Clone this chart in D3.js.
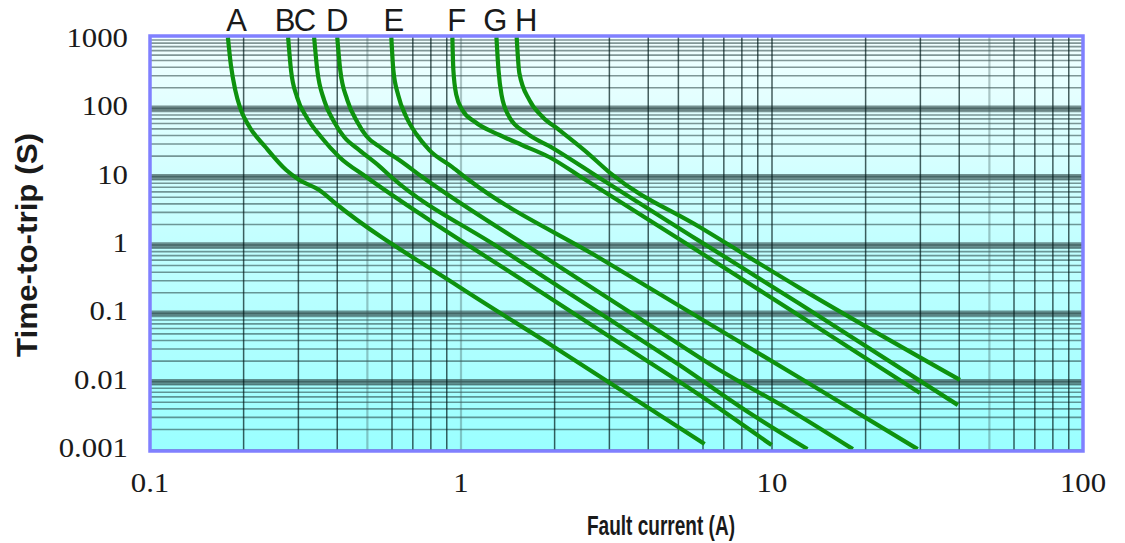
<!DOCTYPE html>
<html>
<head>
<meta charset="utf-8">
<script src="https://cdn.jsdelivr.net/npm/d3@7"></script>
<style>
body { margin: 0; background: #fff; }
</style>
</head>
<body>
<svg width="1125" height="543"></svg>
<script>
// curve names and where their letters sit (fault current, A)
var names = ['A', 'B', 'C', 'D', 'E', 'F', 'G', 'H'];
var labelAt = [0.190, 0.272, 0.315, 0.400, 0.608, 0.969, 1.29, 1.62];

// [fault current (A), time-to-trip (s)]
var curveA = [[0.178,1100],[0.182,431],[0.188,185],[0.195,101],[0.208,55.1],[0.235,27.2],[0.274,12.5],[0.302,8.94],[0.350,6.38],[0.397,3.98],[0.988,0.243],[1.97,0.0333],[6.07,0.00122]];
var curveB = [[0.278,1100],[0.284,364],[0.297,146],[0.320,72.2],[0.355,38.0],[0.406,19.4],[0.496,9.89],[0.791,2.32],[1.54,0.329],[3.23,0.0368],[5.85,0.00638],[9.97,0.00118]];
var curveC = [[0.337,1100],[0.345,364],[0.363,132],[0.391,63.1],[0.421,38.0],[0.471,24.5],[0.546,14.3],[0.597,9.89],[1.33,0.904],[2.79,0.101],[5.04,0.0175],[8.47,0.00348],[13.0,0.00103]];
var curveD = [[0.400,1100],[0.409,364],[0.431,132],[0.464,63.1],[0.496,39.4],[0.554,26.3],[0.633,17.5],[0.751,9.89],[1.92,0.603],[4.04,0.0675],[6.78,0.0148],[11.4,0.00385],[18.2,0.00103]];
var curveE = [[0.597,1100],[0.606,364],[0.628,157],[0.667,74.7],[0.718,42.1],[0.791,24.5],[0.938,13.8],[1.06,8.94],[2.79,0.645],[5.85,0.0855],[12.3,0.0113],[29.4,0.00103]];
var curveF = [[0.938,1100],[0.945,364],[0.966,157],[1.01,94.5],[1.11,63.1],[1.33,40.7],[1.57,29.1],[1.92,19.4],[2.46,9.56],[5.85,0.789],[12.3,0.0914],[29.9,0.00682]];
var curveG = [[1.30,1100],[1.32,364],[1.35,157],[1.43,74.7],[1.62,43.6],[1.97,26.3],[2.79,9.56],[5.85,1.14],[12.3,0.137],[39.6,0.00455]];
var curveH = [[1.51,1100],[1.54,329],[1.66,132],[1.83,74.7],[2.07,48.2],[2.49,24.5],[3.07,10.6],[5.85,1.83],[12.3,0.234],[40.2,0.0106]];
var curves = [curveA, curveB, curveC, curveD, curveE, curveF, curveG, curveH];

var xTicks = [0.1, 1, 10, 100];
var xTickLabels = ['0.1', '1', '10', '100'];
var yTicks = [1000, 100, 10, 1, 0.1, 0.01, 0.001];
var yTickLabels = ['1000', '100', '10', '1', '0.1', '0.01', '0.001'];
var yBands = [100, 10, 1, 0.1, 0.01];
var lightX = [0.5, 1, 50];

var svg = d3.select('svg');
var pLeft = 150, pRight = 1083, pTop = 36, pBottom = 451;

var x = d3.scaleLog().domain([0.1, 100]).range([pLeft, pRight]);
var y = d3.scaleLog().domain([0.001, 1000]).range([450, 40]);

var defs = svg.append('defs');
var grad = defs.append('linearGradient')
    .attr('id', 'bg')
    .attr('x1', 0).attr('y1', 0).attr('x2', 0).attr('y2', 1);
grad.append('stop').attr('offset', '0%').attr('stop-color', '#f2ffff');
grad.append('stop').attr('offset', '50%').attr('stop-color', '#c2ffff');
grad.append('stop').attr('offset', '100%').attr('stop-color', '#9affff');

defs.append('clipPath').attr('id', 'plot')
    .append('rect')
    .attr('x', pLeft).attr('y', pTop)
    .attr('width', pRight - pLeft).attr('height', pBottom - pTop);

svg.append('rect')
    .attr('x', pLeft).attr('y', pTop)
    .attr('width', pRight - pLeft).attr('height', pBottom - pTop)
    .attr('fill', 'url(#bg)');

var grid = svg.append('g').attr('clip-path', 'url(#plot)');

function isLight(d) {
    return lightX.some(function(v) { return Math.abs(v - d) < 1e-9; });
}

// horizontal minor lines
grid.selectAll('.hline')
    .data(y.ticks())
    .enter()
    .append('line')
    .attr('class', 'hline')
    .attr('x1', pLeft).attr('x2', pRight)
    .attr('y1', function(d) { return y(d); })
    .attr('y2', function(d) { return y(d); })
    .attr('stroke', 'rgba(20,45,45,0.5)')
    .attr('stroke-width', 1.6);

// decade bands
grid.selectAll('.band')
    .data(yBands)
    .enter()
    .append('line')
    .attr('class', 'band')
    .attr('x1', pLeft).attr('x2', pRight)
    .attr('y1', function(d) { return y(d); })
    .attr('y2', function(d) { return y(d); })
    .attr('stroke', 'rgba(45,70,70,0.6)')
    .attr('stroke-width', 5.5);

// vertical lines
grid.selectAll('.vline')
    .data(x.ticks())
    .enter()
    .append('line')
    .attr('class', 'vline')
    .attr('y1', pTop).attr('y2', pBottom)
    .attr('x1', function(d) { return x(d); })
    .attr('x2', function(d) { return x(d); })
    .attr('stroke', function(d) { return isLight(d) ? 'rgba(60,90,90,0.35)' : 'rgba(0,25,25,0.7)'; })
    .attr('stroke-width', function(d) { return isLight(d) ? 2.2 : 1.5; });

var line = d3.line()
    .x(function(d) { return x(d[0]); })
    .y(function(d) { return y(d[1]); })
    .curve(d3.curveMonotoneX);

svg.append('g').attr('clip-path', 'url(#plot)')
    .selectAll('.curve')
    .data(curves)
    .enter()
    .append('path')
    .attr('class', 'curve')
    .attr('d', line)
    .attr('fill', 'none')
    .attr('stroke', '#0e920e')
    .attr('stroke-width', 4.2)
    .attr('stroke-linejoin', 'round');

// frame
svg.append('rect')
    .attr('x', pLeft).attr('y', pTop)
    .attr('width', pRight - pLeft).attr('height', pBottom - pTop)
    .attr('fill', 'none')
    .attr('stroke', '#8080ff')
    .attr('stroke-width', 3.5);

// curve letters
svg.selectAll('.name')
    .data(names)
    .enter()
    .append('text')
    .attr('class', 'name')
    .attr('x', function(d, i) { return x(labelAt[i]); })
    .attr('y', 31)
    .attr('text-anchor', 'middle')
    .style('font-family', '"Liberation Sans", Arial, sans-serif')
    .style('font-size', '31px')
    .style('fill', '#1a1a1a')
    .text(function(d) { return d; });

// widen serif labels a little, like the reference
function stretch(sel, k) {
    sel.each(function() {
        var w = this.getComputedTextLength();
        d3.select(this)
            .attr('textLength', w * k)
            .attr('lengthAdjust', 'spacingAndGlyphs');
    });
}

// tick labels
svg.selectAll('.ylab')
    .data(yTicks)
    .enter()
    .append('text')
    .attr('class', 'ylab')
    .attr('x', 128)
    .attr('y', function(d) { return y(d) + 7; })
    .attr('text-anchor', 'end')
    .style('font-family', '"Liberation Serif", "Times New Roman", serif')
    .style('font-size', '28px')
    .style('fill', '#1a1a1a')
    .text(function(d, i) { return yTickLabels[i]; })
    .call(stretch, 1.1);

svg.selectAll('.xlab')
    .data(xTicks)
    .enter()
    .append('text')
    .attr('class', 'xlab')
    .attr('x', function(d) { return x(d); })
    .attr('y', 492)
    .attr('text-anchor', 'middle')
    .style('font-family', '"Liberation Serif", "Times New Roman", serif')
    .style('font-size', '28px')
    .style('fill', '#1a1a1a')
    .text(function(d, i) { return xTickLabels[i]; })
    .call(stretch, 1.1);

// axis titles
svg.append('text')
    .attr('x', 661)
    .attr('y', 535)
    .attr('text-anchor', 'middle')
    .attr('textLength', 148)
    .attr('lengthAdjust', 'spacingAndGlyphs')
    .style('font-family', '"Liberation Sans", Arial, sans-serif')
    .style('font-weight', 'bold')
    .style('font-size', '28px')
    .style('fill', '#1a1a1a')
    .text('Fault current (A)');

svg.append('text')
    .attr('transform', 'translate(37,245) rotate(-90)')
    .attr('text-anchor', 'middle')
    .attr('textLength', 224)
    .attr('lengthAdjust', 'spacingAndGlyphs')
    .style('font-family', '"Liberation Sans", Arial, sans-serif')
    .style('font-weight', 'bold')
    .style('font-size', '29px')
    .style('fill', '#1a1a1a')
    .text('Time-to-trip (S)');
</script>
</body>
</html>
